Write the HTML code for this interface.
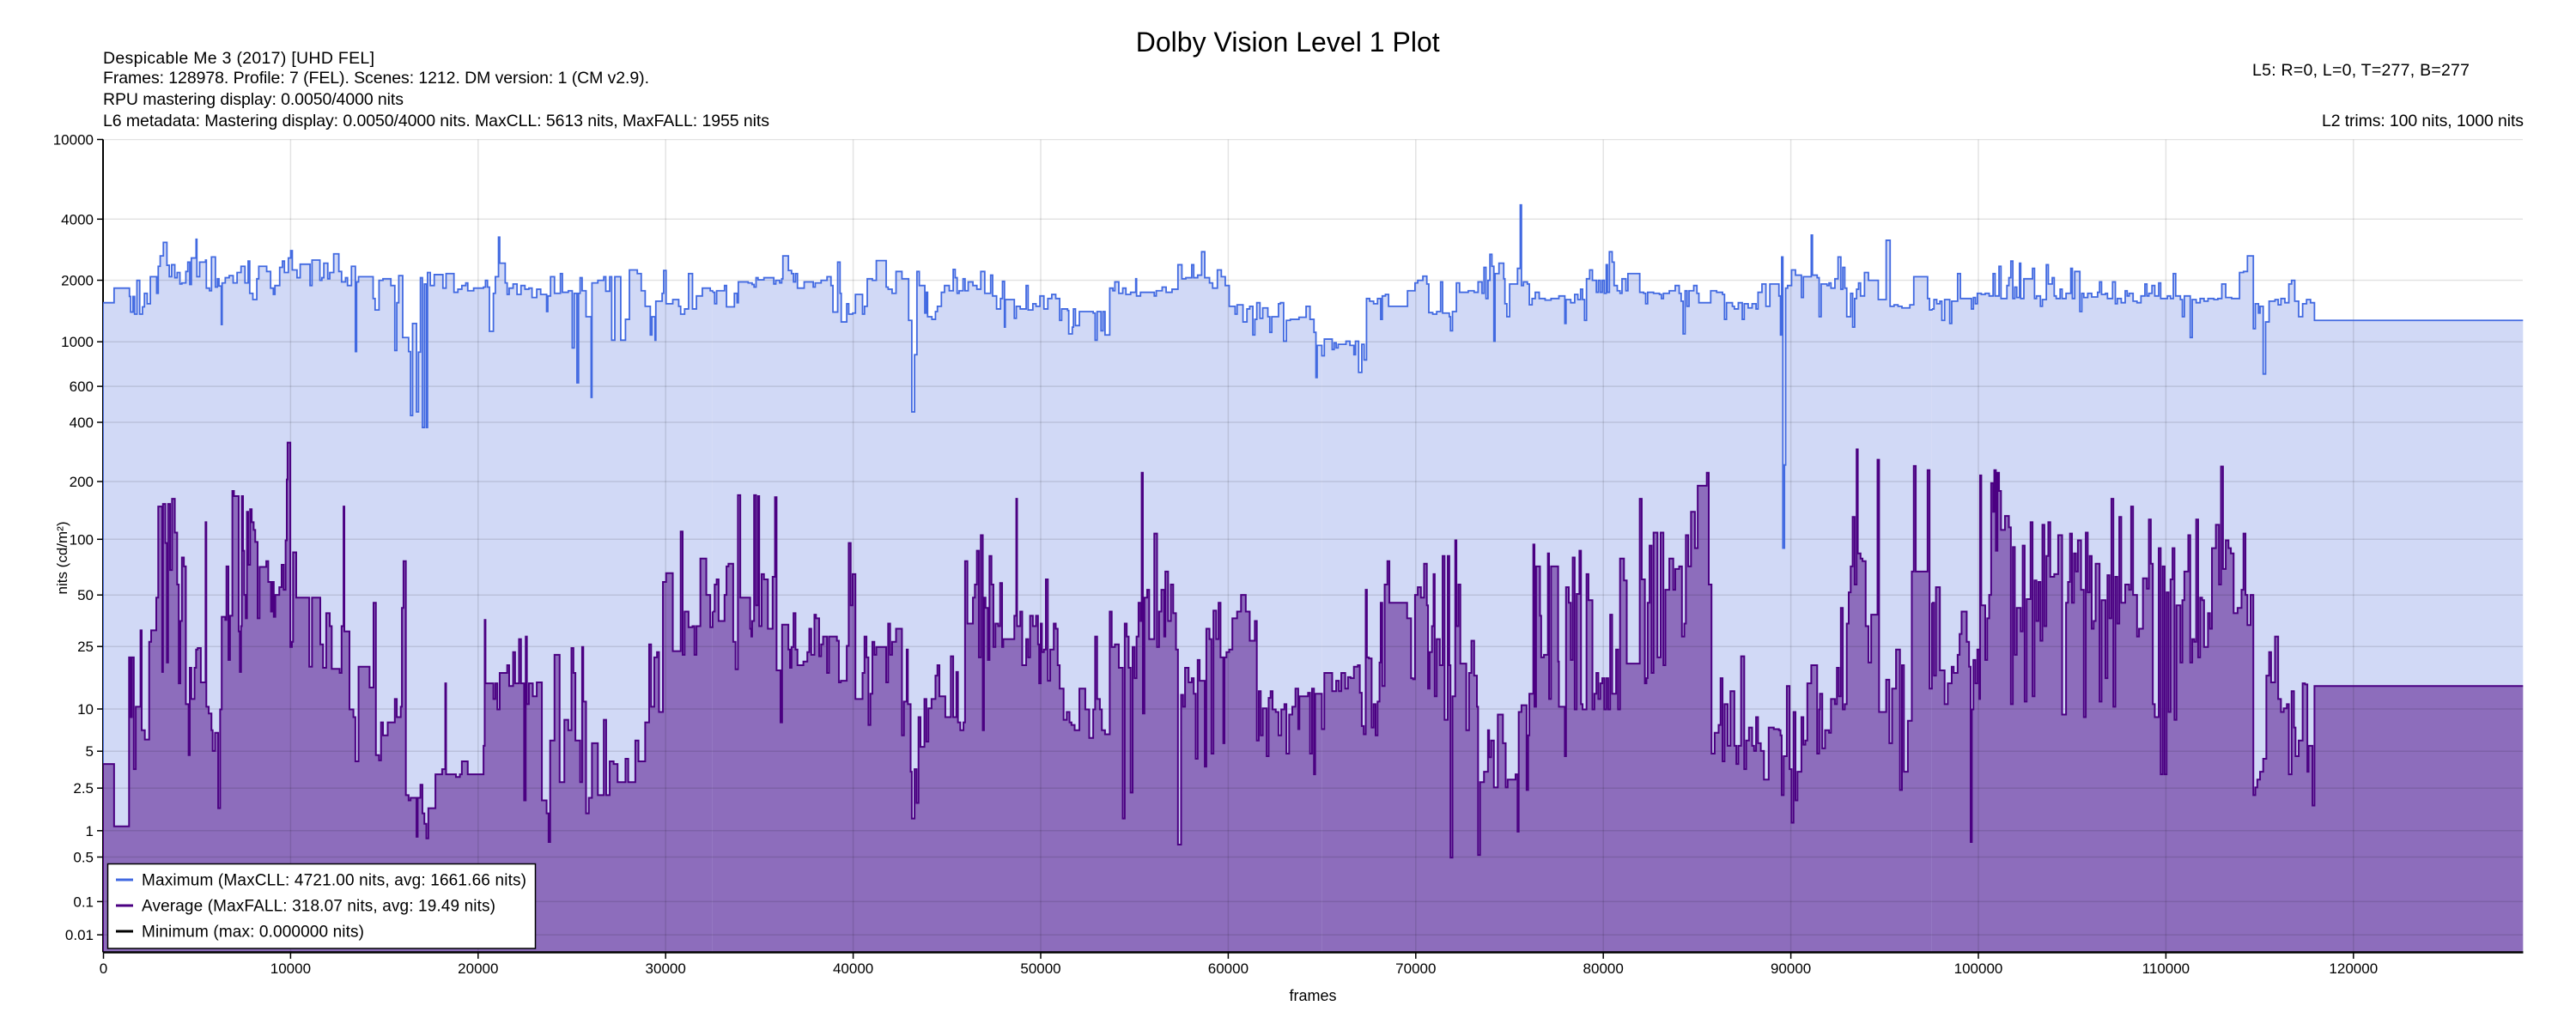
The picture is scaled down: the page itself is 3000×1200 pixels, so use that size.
<!DOCTYPE html>
<html><head><meta charset="utf-8"><style>
html,body{margin:0;padding:0;background:#fff;}
svg{display:block;font-family:"Liberation Sans",Arial,sans-serif;}
</style></head><body>
<svg width="3000" height="1200" viewBox="0 0 3000 1200" xmlns="http://www.w3.org/2000/svg">
<rect width="3000" height="1200" fill="#fff"/>
<text x="1322.7" y="60" font-size="32" textLength="354" fill="#000">Dolby Vision Level 1 Plot</text>
<text x="120" y="74" font-size="19.5" textLength="316" fill="#000">Despicable Me 3 (2017) [UHD FEL]</text>
<text x="120" y="97" font-size="19.5" textLength="636" fill="#000">Frames: 128978. Profile: 7 (FEL). Scenes: 1212. DM version: 1 (CM v2.9).</text>
<text x="120" y="122" font-size="19.5" textLength="350" fill="#000">RPU mastering display: 0.0050/4000 nits</text>
<text x="120" y="147" font-size="19.5" textLength="776" fill="#000">L6 metadata: Mastering display: 0.0050/4000 nits. MaxCLL: 5613 nits, MaxFALL: 1955 nits</text>
<text x="2623" y="88" font-size="19.5" textLength="253" fill="#000">L5: R=0, L=0, T=277, B=277</text>
<text x="2704" y="147" font-size="19.5" textLength="235" fill="#000">L2 trims: 100 nits, 1000 nits</text>

<defs><clipPath id="pc"><rect x="120" y="162" width="2818.5" height="948"/></clipPath></defs>

<line x1="120" y1="162.5" x2="120" y2="1109.5" stroke="#000" stroke-width="2"/>

<g clip-path="url(#pc)">
<g fill="#d1d9f6" stroke="none">
<g transform="translate(120,160) scale(0.459184,0.605867)"><path d="M0,1568 V318 H28 V290 H67 V306 H70 V336 H76 V306 H80 V340 H86 V275 H93 V340 H100 V326 H105 V300 H112 V320 H120 V268 H136 V300 H140 V248 H145 V228 H153 V202 H162 V246 H168 V268 H174 V245 H182 V270 H188 V260 H195 V282 H200 V280 H210 V258 H215 V240 H220 V283 H224 V232 H236 V196 H238 V268 H245 V240 H260 V236 H262 V290 H270 V295 H275 V230 H285 V288 H290 V272 H294 V286 H300 V360 H302 V280 H310 V270 H320 V266 H330 V280 H340 V260 H350 V248 H360 V280 H368 V238 H372 V300 H380 V312 H390 V272 H395 V248 H415 V258 H425 V290 H432 V302 H436 V285 H448 V250 H455 V238 H460 V260 H470 V232 H476 V218 H480 V255 H492 V270 H500 V244 H525 V285 H530 V236 H550 V275 H555 V270 H560 V242 H570 V272 H575 V260 H585 V224 H598 V258 H605 V278 H615 V270 H620 V285 H630 V248 H640 V412 H643 V278 H648 V268 H685 V310 H690 V332 H700 V275 H710 V272 H730 V285 H740 V410 H745 V318 H750 V266 H760 V385 H775 V412 H780 V535 H785 V358 H795 V528 H800 V413 H805 V270 H810 V558 H815 V282 H820 V558 H823 V260 H830 V285 H840 V264 H862 V290 H870 V262 H890 V298 H900 V292 H910 V285 H920 V280 H925 V295 H940 V290 H965 V288 H970 V275 H975 V288 H980 V373 H990 V300 H995 V268 H1003 V192 H1006 V242 H1020 V280 H1025 V302 H1030 V290 H1040 V282 H1050 V302 H1060 V285 H1070 V292 H1080 V290 H1088 V308 H1100 V292 H1110 V302 H1125 V335 H1128 V305 H1135 V268 H1145 V300 H1160 V262 H1165 V298 H1180 V295 H1190 V405 H1195 V300 H1202 V472 H1206 V300 H1210 V270 H1215 V295 H1225 V345 H1238 V500 H1240 V280 H1255 V275 H1270 V268 H1275 V296 H1285 V268 H1290 V390 H1298 V268 H1310 V268 H1313 V390 H1325 V350 H1335 V255 H1355 V262 H1365 V295 H1375 V325 H1388 V380 H1392 V345 H1400 V390 H1402 V315 H1418 V300 H1422 V256 H1428 V320 H1445 V312 H1460 V325 H1465 V340 H1475 V330 H1485 V262 H1495 V330 H1505 V305 H1520 V290 H1540 V295 H1546 V1568 Z"/></g>
<g transform="translate(830,160) scale(0.459184,0.605867)"><path d="M0,1568 V298 H5 V320 H10 V295 H30 V285 H35 V326 H55 V300 H62 V318 H65 V278 H90 V280 H100 V283 H105 V288 H110 V270 H115 V274 H130 V270 H150 V270 H155 V282 H160 V275 H170 V280 H175 V272 H178 V228 H192 V256 H200 V262 H205 V278 H210 V262 H215 V290 H232 V278 H255 V288 H260 V280 H275 V275 H290 V268 H300 V285 H305 V336 H317 V240 H323 V300 H326 V355 H340 V320 H345 V340 H355 V338 H362 V302 H380 V340 H385 V325 H392 V272 H405 V275 H415 V237 H440 V288 H445 V292 H455 V300 H465 V258 H480 V272 H497 V352 H505 V528 H512 V418 H518 V258 H524 V285 H538 V338 H542 V298 H545 V345 H556 V350 H565 V335 H570 V325 H580 V298 H588 V285 H600 V295 H610 V254 H615 V270 H620 V300 H625 V295 H635 V272 H640 V295 H648 V278 H660 V285 H670 V292 H680 V258 H690 V300 H705 V265 H710 V305 H720 V330 H730 V310 H735 V277 H740 V365 H742 V312 H765 V348 H770 V325 H780 V330 H795 V285 H800 V332 H812 V320 H820 V325 H830 V305 H840 V330 H850 V310 H860 V302 H870 V310 H880 V352 H885 V330 H900 V333 H903 V378 H912 V365 H915 V330 H920 V362 H930 V335 H965 V338 H970 V390 H975 V335 H985 V372 H990 V335 H995 V380 H1007 V290 H1015 V295 H1020 V278 H1030 V300 H1040 V290 H1048 V302 H1060 V298 H1073 V272 H1075 V305 H1085 V298 H1100 V298 H1120 V305 H1125 V295 H1140 V288 H1150 V298 H1165 V292 H1180 V245 H1190 V272 H1200 V270 H1215 V245 H1220 V270 H1230 V265 H1240 V220 H1248 V270 H1260 V280 H1268 V290 H1280 V255 H1290 V268 H1300 V285 H1310 V325 H1325 V340 H1330 V322 H1345 V355 H1355 V330 H1362 V325 H1370 V380 H1375 V350 H1380 V318 H1388 V348 H1395 V328 H1408 V345 H1413 V375 H1418 V345 H1435 V320 H1440 V318 H1448 V392 H1455 V352 H1465 V350 H1487 V346 H1505 V325 H1515 V350 H1525 V375 H1530 V462 H1533 V400 H1545 V420 H1546 V1568 Z"/></g>
<g transform="translate(1540,160) scale(0.459184,0.605867)"><path d="M0,1568 V420 H5 V388 H25 V408 H30 V395 H35 V405 H40 V398 H60 V392 H70 V400 H80 V418 H84 V392 H92 V452 H100 V398 H106 V428 H112 V310 H120 V315 H130 V320 H140 V310 H148 V350 H152 V305 H160 V302 H168 V325 H216 V295 H235 V280 H242 V275 H255 V267 H265 V282 H270 V337 H280 V340 H290 V335 H300 V278 H305 V338 H322 V345 H325 V372 H330 V335 H340 V280 H348 V298 H370 V295 H385 V298 H395 V278 H405 V300 H410 V250 H415 V310 H420 V275 H425 V225 H430 V248 H435 V392 H438 V262 H448 V242 H460 V272 H463 V320 H468 V345 H475 V282 H495 V252 H502 V130 H505 V285 H510 V278 H520 V282 H525 V322 H532 V310 H540 V298 H550 V310 H565 V313 H580 V310 H600 V305 H615 V358 H618 V312 H630 V318 H640 V302 H648 V312 H655 V292 H660 V312 H665 V352 H670 V272 H678 V255 H685 V275 H695 V298 H700 V275 H705 V298 H710 V275 H715 V300 H720 V245 H723 V298 H728 V220 H735 V240 H740 V285 H748 V295 H755 V300 H760 V272 H770 V295 H775 V262 H805 V298 H815 V300 H820 V320 H825 V298 H840 V300 H855 V302 H860 V310 H865 V300 H880 V295 H895 V285 H905 V300 H910 V315 H915 V378 H920 V295 H925 V325 H930 V295 H942 V285 H950 V300 H955 V318 H985 V295 H1000 V298 H1015 V302 H1020 V350 H1025 V318 H1040 V325 H1045 V330 H1055 V318 H1065 V350 H1070 V320 H1080 V328 H1090 V320 H1100 V330 H1105 V298 H1115 V282 H1125 V325 H1135 V282 H1150 V282 H1158 V305 H1162 V380 H1165 V230 H1168 V790 H1172 V630 H1175 V290 H1180 V285 H1190 V255 H1200 V265 H1215 V308 H1220 V268 H1240 V188 H1243 V265 H1255 V270 H1260 V345 H1265 V282 H1280 V285 H1285 V280 H1290 V290 H1300 V272 H1308 V230 H1315 V292 H1320 V250 H1325 V290 H1330 V345 H1340 V300 H1345 V365 H1350 V310 H1355 V292 H1360 V280 H1365 V305 H1375 V260 H1385 V275 H1410 V312 H1430 V198 H1440 V325 H1450 V322 H1460 V325 H1470 V328 H1490 V322 H1500 V268 H1535 V310 H1540 V332 H1546 V1568 Z"/></g>
<g transform="translate(2250,160) scale(0.459184,0.605867)"><path d="M0,1568 V330 H5 V312 H12 V320 H20 V315 H25 V352 H32 V312 H45 V358 H50 V315 H65 V262 H72 V310 H85 V310 H100 V330 H105 V308 H110 V320 H115 V300 H125 V302 H135 V300 H145 V305 H155 V262 H160 V305 H170 V248 H175 V310 H190 V285 H195 V270 H200 V238 H205 V310 H210 V288 H215 V308 H222 V242 H225 V310 H233 V272 H240 V272 H255 V252 H260 V310 H265 V305 H275 V325 H280 V312 H290 V245 H295 V282 H305 V270 H310 V305 H315 V310 H325 V292 H330 V310 H340 V300 H352 V252 H356 V310 H362 V258 H370 V258 H375 V335 H380 V300 H385 V308 H395 V300 H405 V307 H420 V298 H425 V278 H430 V302 H440 V300 H445 V310 H458 V278 H465 V320 H470 V310 H480 V318 H490 V295 H495 V305 H500 V300 H510 V315 H520 V318 H530 V305 H540 V282 H545 V305 H550 V300 H558 V285 H565 V305 H575 V280 H580 V310 H590 V310 H597 V305 H605 V310 H612 V262 H618 V305 H630 V312 H635 V345 H640 V305 H650 V305 H655 V385 H660 V312 H670 V318 H680 V310 H690 V315 H700 V310 H715 V312 H725 V310 H735 V282 H745 V308 H760 V310 H780 V260 H790 V258 H800 V228 H815 V368 H820 V320 H828 V338 H832 V325 H840 V455 H846 V355 H855 V315 H870 V312 H878 V322 H885 V310 H895 V318 H905 V282 H912 V275 H920 V315 H930 V345 H940 V320 H950 V312 H960 V318 H970 V352 H1499 V1568 Z"/></g>
</g>

<g fill="#8d6dbc" stroke="none">
<g transform="translate(120,160) scale(0.459184,0.605867)"><path d="M0,1568 V1205 H28 V1325 H66 V1000 H70 V1115 H73 V1000 H78 V1215 H83 V1095 H88 V1095 H95 V948 H98 V1140 H106 V1158 H117 V970 H122 V948 H135 V885 H140 V710 H150 V1028 H152 V705 H158 V780 H162 V1010 H165 V705 H170 V832 H175 V695 H182 V760 H188 V860 H192 V1050 H196 V930 H200 V808 H205 V825 H210 V1090 H217 V1188 H220 V1020 H224 V1080 H232 V1020 H236 V985 H240 V982 H248 V1048 H260 V740 H262 V1095 H268 V1108 H275 V1140 H278 V1180 H284 V1145 H292 V1290 H297 V1100 H301 V922 H310 V928 H313 V825 H318 V1005 H322 V920 H328 V680 H332 V690 H340 V690 H344 V950 H347 V1028 H350 V940 H352 V690 H355 V795 H358 V880 H362 V925 H365 V720 H368 V822 H373 V715 H377 V740 H382 V755 H386 V778 H392 V925 H397 V826 H414 V815 H419 V855 H426 V912 H430 V855 H433 V922 H437 V880 H447 V865 H453 V822 H458 V870 H463 V775 H466 V658 H468 V587 H475 V980 H479 V970 H482 V798 H490 V885 H523 V1018 H530 V885 H551 V975 H558 V1020 H566 V915 H575 V940 H580 V1022 H600 V1030 H605 V940 H610 V710 H612 V950 H625 V1100 H635 V1115 H640 V1200 H648 V1018 H676 V1058 H686 V895 H692 V1188 H700 V1198 H705 V1125 H710 V1150 H722 V1125 H740 V1080 H745 V1115 H755 V1095 H758 V905 H762 V815 H768 V1265 H775 V1275 H780 V1270 H795 V1345 H798 V1270 H805 V1245 H810 V1300 H815 V1320 H820 V1348 H825 V1290 H843 V1225 H860 V1215 H868 V1050 H870 V1225 H895 V1230 H905 V1225 H910 V1200 H925 V1225 H965 V1170 H968 V928 H970 V1050 H990 V1080 H995 V1050 H1000 V1100 H1006 V1030 H1025 V1015 H1030 V1055 H1040 V990 H1045 V1050 H1055 V965 H1060 V1050 H1068 V1275 H1072 V960 H1075 V1090 H1080 V1050 H1090 V1075 H1100 V1048 H1113 V1275 H1125 V1300 H1130 V1355 H1134 V1160 H1145 V995 H1158 V1240 H1170 V1120 H1180 V1140 H1188 V982 H1193 V1030 H1198 V1160 H1210 V1240 H1215 V980 H1218 V1085 H1225 V1300 H1232 V1270 H1240 V1165 H1255 V1265 H1270 V1120 H1276 V1265 H1285 V1200 H1295 V1205 H1305 V1240 H1325 V1195 H1332 V1240 H1350 V1160 H1358 V1200 H1375 V1125 H1385 V975 H1390 V1095 H1398 V1000 H1405 V990 H1410 V1105 H1420 V855 H1428 V838 H1445 V988 H1465 V758 H1470 V995 H1475 V912 H1485 V942 H1495 V940 H1500 V995 H1505 V940 H1515 V810 H1530 V880 H1540 V942 H1546 V1568 Z"/></g>
<g transform="translate(830,160) scale(0.459184,0.605867)"><path d="M0,1568 V912 H5 V860 H10 V850 H15 V930 H30 V880 H35 V825 H40 V820 H52 V970 H58 V1023 H64 V688 H70 V885 H90 V885 H95 V945 H98 V960 H100 V930 H105 V688 H110 V900 H115 V690 H118 V940 H124 V840 H130 V850 H140 V945 H152 V845 H158 V692 H162 V1025 H172 V1125 H176 V937 H192 V985 H196 V1020 H200 V980 H205 V915 H210 V985 H215 V1015 H230 V1008 H240 V990 H245 V945 H250 V995 H258 V918 H262 V925 H270 V998 H275 V975 H280 V960 H290 V1030 H295 V960 H315 V968 H320 V1048 H325 V1045 H340 V978 H345 V780 H350 V900 H355 V840 H362 V1080 H380 V1030 H385 V960 H390 V1000 H395 V1130 H400 V1070 H405 V970 H410 V995 H415 V980 H440 V1048 H445 V935 H450 V995 H455 V970 H465 V945 H480 V1150 H485 V1085 H492 V985 H495 V1090 H502 V1220 H505 V1310 H512 V1215 H517 V1280 H522 V1115 H527 V1172 H537 V1080 H542 V1162 H547 V1098 H555 V1080 H565 V1035 H570 V1015 H575 V1075 H583 V1075 H590 V1115 H604 V998 H610 V1115 H618 V1028 H622 V1125 H628 V1140 H636 V1125 H640 V815 H646 V935 H655 V935 H660 V885 H665 V860 H670 V795 H675 V1000 H680 V765 H685 V1140 H688 V885 H692 V905 H698 V1005 H702 V805 H707 V860 H712 V980 H717 V935 H724 V940 H729 V857 H734 V980 H737 V965 H742 V965 H765 V920 H770 V695 H772 V940 H780 V912 H785 V1015 H795 V965 H800 V1000 H805 V920 H812 V940 H820 V920 H825 V975 H828 V1050 H832 V935 H835 V990 H840 V985 H845 V850 H850 V1045 H856 V985 H865 V935 H870 V945 H875 V1015 H880 V1060 H890 V1120 H898 V1105 H905 V1125 H910 V1130 H918 V1140 H930 V1060 H945 V1100 H955 V1155 H965 V1100 H970 V960 H975 V1080 H982 V1100 H987 V1140 H995 V1148 H1007 V912 H1012 V980 H1020 V975 H1030 V1020 H1040 V1310 H1045 V935 H1050 V960 H1055 V1020 H1060 V1260 H1065 V980 H1070 V1040 H1075 V960 H1080 V895 H1085 V930 H1088 V645 H1091 V1108 H1095 V885 H1102 V870 H1107 V965 H1120 V762 H1127 V980 H1132 V912 H1138 V870 H1145 V960 H1148 V835 H1155 V930 H1162 V860 H1168 V915 H1175 V985 H1180 V1360 H1188 V1072 H1193 V1095 H1198 V1020 H1207 V1048 H1215 V1040 H1220 V1070 H1225 V1195 H1230 V1005 H1235 V1045 H1248 V1210 H1252 V945 H1260 V965 H1265 V1185 H1270 V910 H1277 V965 H1283 V895 H1288 V1000 H1295 V1165 H1298 V1000 H1303 V990 H1310 V985 H1318 V925 H1330 V912 H1340 V880 H1352 V912 H1362 V968 H1375 V930 H1380 V1160 H1385 V1065 H1390 V1150 H1395 V1098 H1400 V1098 H1405 V1190 H1410 V1078 H1415 V1065 H1420 V1100 H1428 V1105 H1435 V1150 H1442 V1100 H1450 V1090 H1455 V1185 H1462 V1110 H1470 V1095 H1478 V1060 H1485 V1138 H1488 V1075 H1500 V1075 H1510 V1068 H1515 V1185 H1520 V1060 H1525 V1225 H1528 V1070 H1545 V1138 H1546 V1568 Z"/></g>
<g transform="translate(1540,160) scale(0.459184,0.605867)"><path d="M0,1568 V1138 H5 V1030 H25 V1065 H35 V1045 H42 V1065 H48 V1030 H58 V1060 H65 V1038 H72 V1040 H80 V1018 H90 V1015 H95 V1068 H100 V1132 H105 V1148 H110 V870 H113 V1000 H118 V1002 H125 V1135 H130 V1090 H135 V1150 H140 V1085 H145 V1010 H148 V895 H152 V1055 H158 V860 H165 V815 H170 V895 H215 V925 H225 V1040 H230 V1042 H235 V880 H242 V865 H250 V885 H258 V820 H265 V900 H268 V1060 H272 V990 H278 V940 H282 V840 H285 V1075 H290 V965 H298 V1015 H305 V805 H310 V1120 H318 V805 H322 V1015 H325 V1385 H330 V1075 H337 V775 H340 V940 H345 V860 H350 V1012 H365 V1140 H372 V1030 H378 V968 H385 V1035 H392 V1095 H395 V1380 H400 V1240 H410 V1220 H420 V1140 H423 V1192 H428 V1160 H435 V1250 H445 V1110 H458 V1165 H465 V1250 H470 V1235 H475 V1235 H490 V1225 H495 V1335 H498 V1105 H505 V1092 H510 V1092 H518 V1255 H522 V1150 H525 V1070 H535 V783 H538 V1095 H542 V825 H552 V920 H555 V1000 H562 V995 H572 V800 H575 V1080 H580 V825 H598 V1008 H600 V1095 H615 V1190 H618 V865 H625 V895 H630 V1005 H635 V808 H640 V1100 H645 V878 H652 V795 H656 V1090 H660 V1100 H670 V840 H675 V890 H685 V1100 H690 V1070 H695 V1030 H700 V1080 H705 V1050 H710 V1040 H715 V1100 H720 V1040 H725 V1100 H730 V918 H735 V1070 H745 V985 H750 V1100 H755 V810 H765 V852 H772 V1012 H805 V695 H810 V850 H818 V1050 H822 V1040 H825 V895 H830 V785 H835 V1030 H840 V760 H850 V1000 H855 V1000 H858 V760 H865 V1015 H870 V870 H880 V810 H890 V870 H895 V830 H905 V825 H912 V960 H918 V935 H922 V765 H928 V825 H935 V720 H945 V790 H952 V670 H975 V645 H980 V860 H987 V1185 H995 V1145 H1005 V1130 H1010 V1040 H1015 V1200 H1020 V1090 H1028 V1170 H1035 V1065 H1045 V1170 H1050 V1205 H1055 V1170 H1062 V998 H1070 V1215 H1075 V1160 H1082 V1135 H1090 V1170 H1095 V1180 H1100 V1115 H1105 V1165 H1112 V1180 H1120 V1235 H1132 V1135 H1145 V1138 H1158 V1140 H1162 V1150 H1165 V1265 H1170 V1190 H1178 V1055 H1185 V1215 H1190 V1318 H1195 V1105 H1200 V1275 H1205 V1220 H1215 V1115 H1220 V1168 H1225 V1160 H1230 V1050 H1240 V1015 H1255 V1185 H1260 V1100 H1262 V1070 H1268 V1175 H1275 V1140 H1285 V1145 H1290 V1080 H1300 V1090 H1305 V1020 H1310 V1075 H1315 V905 H1320 V1100 H1325 V1090 H1330 V935 H1335 V875 H1340 V825 H1345 V730 H1350 V860 H1355 V600 H1358 V800 H1365 V810 H1370 V815 H1378 V940 H1385 V1010 H1392 V918 H1408 V620 H1412 V1105 H1430 V1043 H1438 V1165 H1445 V1060 H1455 V985 H1465 V1255 H1470 V1015 H1475 V1220 H1485 V1122 H1495 V835 H1500 V632 H1505 V835 H1535 V640 H1540 V1060 H1546 V1568 Z"/></g>
<g transform="translate(2250,160) scale(0.459184,0.605867)"><path d="M0,1568 V895 H5 V1035 H10 V865 H20 V1025 H32 V1090 H40 V1050 H50 V1018 H55 V1030 H65 V995 H70 V955 H75 V912 H88 V970 H94 V1018 H98 V1355 H101 V1100 H105 V1005 H110 V1050 H115 V985 H120 V1080 H122 V650 H125 V900 H135 V1005 H140 V925 H145 V880 H150 V665 H155 V720 H158 V640 H162 V795 H166 V645 H170 V680 H175 V755 H185 V728 H195 V750 H200 V1090 H205 V788 H210 V995 H215 V905 H225 V950 H230 V785 H235 V1085 H240 V888 H250 V740 H255 V1075 H260 V852 H265 V930 H270 V855 H275 V968 H280 V745 H285 V940 H290 V805 H295 V740 H300 V845 H310 V840 H320 V765 H330 V1110 H340 V895 H345 V855 H350 V762 H355 V895 H360 V800 H365 V835 H370 V775 H378 V870 H385 V1115 H390 V760 H395 V875 H400 V805 H405 V945 H410 V930 H415 V820 H425 V1085 H430 V890 H440 V1040 H445 V842 H450 V925 H455 V695 H460 V1095 H465 V845 H470 V935 H475 V730 H480 V895 H490 V860 H500 V870 H505 V710 H510 V880 H520 V960 H525 V945 H535 V848 H545 V868 H550 V735 H555 V820 H560 V1090 H565 V1115 H575 V790 H580 V1225 H585 V825 H590 V1225 H595 V875 H600 V1105 H605 V850 H610 V790 H615 V1120 H620 V900 H630 V1010 H635 V890 H640 V835 H650 V765 H655 V1010 H660 V965 H665 V970 H670 V735 H675 V1000 H680 V885 H685 V890 H690 V980 H700 V915 H705 V945 H710 V790 H720 V745 H728 V860 H733 V633 H738 V830 H745 V775 H752 V790 H758 V800 H765 V915 H775 V905 H785 V870 H790 V762 H795 V880 H800 V938 H808 V880 H815 V1265 H820 V1250 H825 V1235 H832 V1220 H840 V1195 H848 V1035 H855 V990 H860 V1048 H870 V960 H878 V1080 H885 V1105 H892 V1098 H900 V1090 H905 V1225 H912 V1065 H918 V1135 H922 V1190 H930 V1160 H940 V1050 H946 V1052 H952 V1220 H955 V1170 H965 V1285 H970 V1055 H1499 V1568 Z"/></g>
</g>

<g stroke="#000" stroke-opacity="0.11" stroke-width="1.5">
<line x1="120" x2="2938" y1="162.5" y2="162.5"/>
<line x1="120" x2="2938" y1="255.3" y2="255.3"/>
<line x1="120" x2="2938" y1="326.5" y2="326.5"/>
<line x1="120" x2="2938" y1="398.2" y2="398.2"/>
<line x1="120" x2="2938" y1="450.1" y2="450.1"/>
<line x1="120" x2="2938" y1="492" y2="492"/>
<line x1="120" x2="2938" y1="561" y2="561"/>
<line x1="120" x2="2938" y1="628.3" y2="628.3"/>
<line x1="120" x2="2938" y1="693.2" y2="693.2"/>
<line x1="120" x2="2938" y1="753.2" y2="753.2"/>
<line x1="120" x2="2938" y1="826" y2="826"/>
<line x1="120" x2="2938" y1="875.2" y2="875.2"/>
<line x1="120" x2="2938" y1="918.2" y2="918.2"/>
<line x1="120" x2="2938" y1="967.8" y2="967.8"/>
<line x1="120" x2="2938" y1="998.5" y2="998.5"/>
<line x1="120" x2="2938" y1="1050.4" y2="1050.4"/>
<line x1="120" x2="2938" y1="1089.1" y2="1089.1"/>
<line y1="162.5" y2="1109.5" x1="338.4" x2="338.4"/>
<line y1="162.5" y2="1109.5" x1="556.8" x2="556.8"/>
<line y1="162.5" y2="1109.5" x1="775.2" x2="775.2"/>
<line y1="162.5" y2="1109.5" x1="993.6" x2="993.6"/>
<line y1="162.5" y2="1109.5" x1="1212" x2="1212"/>
<line y1="162.5" y2="1109.5" x1="1430.4" x2="1430.4"/>
<line y1="162.5" y2="1109.5" x1="1648.8" x2="1648.8"/>
<line y1="162.5" y2="1109.5" x1="1867.2" x2="1867.2"/>
<line y1="162.5" y2="1109.5" x1="2085.6" x2="2085.6"/>
<line y1="162.5" y2="1109.5" x1="2304" x2="2304"/>
<line y1="162.5" y2="1109.5" x1="2522.4" x2="2522.4"/>
<line y1="162.5" y2="1109.5" x1="2740.8" x2="2740.8"/>
</g>

<g fill="none" stroke="#4169e1" stroke-width="1.8">
<g transform="translate(120,160) scale(0.459184,0.605867)"><path vector-effect="non-scaling-stroke" d="M0,1568 V318 H28 V290 H67 V306 H70 V336 H76 V306 H80 V340 H86 V275 H93 V340 H100 V326 H105 V300 H112 V320 H120 V268 H136 V300 H140 V248 H145 V228 H153 V202 H162 V246 H168 V268 H174 V245 H182 V270 H188 V260 H195 V282 H200 V280 H210 V258 H215 V240 H220 V283 H224 V232 H236 V196 H238 V268 H245 V240 H260 V236 H262 V290 H270 V295 H275 V230 H285 V288 H290 V272 H294 V286 H300 V360 H302 V280 H310 V270 H320 V266 H330 V280 H340 V260 H350 V248 H360 V280 H368 V238 H372 V300 H380 V312 H390 V272 H395 V248 H415 V258 H425 V290 H432 V302 H436 V285 H448 V250 H455 V238 H460 V260 H470 V232 H476 V218 H480 V255 H492 V270 H500 V244 H525 V285 H530 V236 H550 V275 H555 V270 H560 V242 H570 V272 H575 V260 H585 V224 H598 V258 H605 V278 H615 V270 H620 V285 H630 V248 H640 V412 H643 V278 H648 V268 H685 V310 H690 V332 H700 V275 H710 V272 H730 V285 H740 V410 H745 V318 H750 V266 H760 V385 H775 V412 H780 V535 H785 V358 H795 V528 H800 V413 H805 V270 H810 V558 H815 V282 H820 V558 H823 V260 H830 V285 H840 V264 H862 V290 H870 V262 H890 V298 H900 V292 H910 V285 H920 V280 H925 V295 H940 V290 H965 V288 H970 V275 H975 V288 H980 V373 H990 V300 H995 V268 H1003 V192 H1006 V242 H1020 V280 H1025 V302 H1030 V290 H1040 V282 H1050 V302 H1060 V285 H1070 V292 H1080 V290 H1088 V308 H1100 V292 H1110 V302 H1125 V335 H1128 V305 H1135 V268 H1145 V300 H1160 V262 H1165 V298 H1180 V295 H1190 V405 H1195 V300 H1202 V472 H1206 V300 H1210 V270 H1215 V295 H1225 V345 H1238 V500 H1240 V280 H1255 V275 H1270 V268 H1275 V296 H1285 V268 H1290 V390 H1298 V268 H1310 V268 H1313 V390 H1325 V350 H1335 V255 H1355 V262 H1365 V295 H1375 V325 H1388 V380 H1392 V345 H1400 V390 H1402 V315 H1418 V300 H1422 V256 H1428 V320 H1445 V312 H1460 V325 H1465 V340 H1475 V330 H1485 V262 H1495 V330 H1505 V305 H1520 V290 H1540 V295 H1546 V298"/></g>
<g transform="translate(830,160) scale(0.459184,0.605867)"><path vector-effect="non-scaling-stroke" d="M0,298 H5 V320 H10 V295 H30 V285 H35 V326 H55 V300 H62 V318 H65 V278 H90 V280 H100 V283 H105 V288 H110 V270 H115 V274 H130 V270 H150 V270 H155 V282 H160 V275 H170 V280 H175 V272 H178 V228 H192 V256 H200 V262 H205 V278 H210 V262 H215 V290 H232 V278 H255 V288 H260 V280 H275 V275 H290 V268 H300 V285 H305 V336 H317 V240 H323 V300 H326 V355 H340 V320 H345 V340 H355 V338 H362 V302 H380 V340 H385 V325 H392 V272 H405 V275 H415 V237 H440 V288 H445 V292 H455 V300 H465 V258 H480 V272 H497 V352 H505 V528 H512 V418 H518 V258 H524 V285 H538 V338 H542 V298 H545 V345 H556 V350 H565 V335 H570 V325 H580 V298 H588 V285 H600 V295 H610 V254 H615 V270 H620 V300 H625 V295 H635 V272 H640 V295 H648 V278 H660 V285 H670 V292 H680 V258 H690 V300 H705 V265 H710 V305 H720 V330 H730 V310 H735 V277 H740 V365 H742 V312 H765 V348 H770 V325 H780 V330 H795 V285 H800 V332 H812 V320 H820 V325 H830 V305 H840 V330 H850 V310 H860 V302 H870 V310 H880 V352 H885 V330 H900 V333 H903 V378 H912 V365 H915 V330 H920 V362 H930 V335 H965 V338 H970 V390 H975 V335 H985 V372 H990 V335 H995 V380 H1007 V290 H1015 V295 H1020 V278 H1030 V300 H1040 V290 H1048 V302 H1060 V298 H1073 V272 H1075 V305 H1085 V298 H1100 V298 H1120 V305 H1125 V295 H1140 V288 H1150 V298 H1165 V292 H1180 V245 H1190 V272 H1200 V270 H1215 V245 H1220 V270 H1230 V265 H1240 V220 H1248 V270 H1260 V280 H1268 V290 H1280 V255 H1290 V268 H1300 V285 H1310 V325 H1325 V340 H1330 V322 H1345 V355 H1355 V330 H1362 V325 H1370 V380 H1375 V350 H1380 V318 H1388 V348 H1395 V328 H1408 V345 H1413 V375 H1418 V345 H1435 V320 H1440 V318 H1448 V392 H1455 V352 H1465 V350 H1487 V346 H1505 V325 H1515 V350 H1525 V375 H1530 V462 H1533 V400 H1545 V420 H1546"/></g>
<g transform="translate(1540,160) scale(0.459184,0.605867)"><path vector-effect="non-scaling-stroke" d="M0,420 H5 V388 H25 V408 H30 V395 H35 V405 H40 V398 H60 V392 H70 V400 H80 V418 H84 V392 H92 V452 H100 V398 H106 V428 H112 V310 H120 V315 H130 V320 H140 V310 H148 V350 H152 V305 H160 V302 H168 V325 H216 V295 H235 V280 H242 V275 H255 V267 H265 V282 H270 V337 H280 V340 H290 V335 H300 V278 H305 V338 H322 V345 H325 V372 H330 V335 H340 V280 H348 V298 H370 V295 H385 V298 H395 V278 H405 V300 H410 V250 H415 V310 H420 V275 H425 V225 H430 V248 H435 V392 H438 V262 H448 V242 H460 V272 H463 V320 H468 V345 H475 V282 H495 V252 H502 V130 H505 V285 H510 V278 H520 V282 H525 V322 H532 V310 H540 V298 H550 V310 H565 V313 H580 V310 H600 V305 H615 V358 H618 V312 H630 V318 H640 V302 H648 V312 H655 V292 H660 V312 H665 V352 H670 V272 H678 V255 H685 V275 H695 V298 H700 V275 H705 V298 H710 V275 H715 V300 H720 V245 H723 V298 H728 V220 H735 V240 H740 V285 H748 V295 H755 V300 H760 V272 H770 V295 H775 V262 H805 V298 H815 V300 H820 V320 H825 V298 H840 V300 H855 V302 H860 V310 H865 V300 H880 V295 H895 V285 H905 V300 H910 V315 H915 V378 H920 V295 H925 V325 H930 V295 H942 V285 H950 V300 H955 V318 H985 V295 H1000 V298 H1015 V302 H1020 V350 H1025 V318 H1040 V325 H1045 V330 H1055 V318 H1065 V350 H1070 V320 H1080 V328 H1090 V320 H1100 V330 H1105 V298 H1115 V282 H1125 V325 H1135 V282 H1150 V282 H1158 V305 H1162 V380 H1165 V230 H1168 V790 H1172 V630 H1175 V290 H1180 V285 H1190 V255 H1200 V265 H1215 V308 H1220 V268 H1240 V188 H1243 V265 H1255 V270 H1260 V345 H1265 V282 H1280 V285 H1285 V280 H1290 V290 H1300 V272 H1308 V230 H1315 V292 H1320 V250 H1325 V290 H1330 V345 H1340 V300 H1345 V365 H1350 V310 H1355 V292 H1360 V280 H1365 V305 H1375 V260 H1385 V275 H1410 V312 H1430 V198 H1440 V325 H1450 V322 H1460 V325 H1470 V328 H1490 V322 H1500 V268 H1535 V310 H1540 V332 H1546 V330"/></g>
<g transform="translate(2250,160) scale(0.459184,0.605867)"><path vector-effect="non-scaling-stroke" d="M0,330 H5 V312 H12 V320 H20 V315 H25 V352 H32 V312 H45 V358 H50 V315 H65 V262 H72 V310 H85 V310 H100 V330 H105 V308 H110 V320 H115 V300 H125 V302 H135 V300 H145 V305 H155 V262 H160 V305 H170 V248 H175 V310 H190 V285 H195 V270 H200 V238 H205 V310 H210 V288 H215 V308 H222 V242 H225 V310 H233 V272 H240 V272 H255 V252 H260 V310 H265 V305 H275 V325 H280 V312 H290 V245 H295 V282 H305 V270 H310 V305 H315 V310 H325 V292 H330 V310 H340 V300 H352 V252 H356 V310 H362 V258 H370 V258 H375 V335 H380 V300 H385 V308 H395 V300 H405 V307 H420 V298 H425 V278 H430 V302 H440 V300 H445 V310 H458 V278 H465 V320 H470 V310 H480 V318 H490 V295 H495 V305 H500 V300 H510 V315 H520 V318 H530 V305 H540 V282 H545 V305 H550 V300 H558 V285 H565 V305 H575 V280 H580 V310 H590 V310 H597 V305 H605 V310 H612 V262 H618 V305 H630 V312 H635 V345 H640 V305 H650 V305 H655 V385 H660 V312 H670 V318 H680 V310 H690 V315 H700 V310 H715 V312 H725 V310 H735 V282 H745 V308 H760 V310 H780 V260 H790 V258 H800 V228 H815 V368 H820 V320 H828 V338 H832 V325 H840 V455 H846 V355 H855 V315 H870 V312 H878 V322 H885 V310 H895 V318 H905 V282 H912 V275 H920 V315 H930 V345 H940 V320 H950 V312 H960 V318 H970 V352 H1499"/></g>
</g>

<g fill="none" stroke="#4b0082" stroke-width="2">
<g transform="translate(120,160) scale(0.459184,0.605867)"><path vector-effect="non-scaling-stroke" d="M0,1568 V1205 H28 V1325 H66 V1000 H70 V1115 H73 V1000 H78 V1215 H83 V1095 H88 V1095 H95 V948 H98 V1140 H106 V1158 H117 V970 H122 V948 H135 V885 H140 V710 H150 V1028 H152 V705 H158 V780 H162 V1010 H165 V705 H170 V832 H175 V695 H182 V760 H188 V860 H192 V1050 H196 V930 H200 V808 H205 V825 H210 V1090 H217 V1188 H220 V1020 H224 V1080 H232 V1020 H236 V985 H240 V982 H248 V1048 H260 V740 H262 V1095 H268 V1108 H275 V1140 H278 V1180 H284 V1145 H292 V1290 H297 V1100 H301 V922 H310 V928 H313 V825 H318 V1005 H322 V920 H328 V680 H332 V690 H340 V690 H344 V950 H347 V1028 H350 V940 H352 V690 H355 V795 H358 V880 H362 V925 H365 V720 H368 V822 H373 V715 H377 V740 H382 V755 H386 V778 H392 V925 H397 V826 H414 V815 H419 V855 H426 V912 H430 V855 H433 V922 H437 V880 H447 V865 H453 V822 H458 V870 H463 V775 H466 V658 H468 V587 H475 V980 H479 V970 H482 V798 H490 V885 H523 V1018 H530 V885 H551 V975 H558 V1020 H566 V915 H575 V940 H580 V1022 H600 V1030 H605 V940 H610 V710 H612 V950 H625 V1100 H635 V1115 H640 V1200 H648 V1018 H676 V1058 H686 V895 H692 V1188 H700 V1198 H705 V1125 H710 V1150 H722 V1125 H740 V1080 H745 V1115 H755 V1095 H758 V905 H762 V815 H768 V1265 H775 V1275 H780 V1270 H795 V1345 H798 V1270 H805 V1245 H810 V1300 H815 V1320 H820 V1348 H825 V1290 H843 V1225 H860 V1215 H868 V1050 H870 V1225 H895 V1230 H905 V1225 H910 V1200 H925 V1225 H965 V1170 H968 V928 H970 V1050 H990 V1080 H995 V1050 H1000 V1100 H1006 V1030 H1025 V1015 H1030 V1055 H1040 V990 H1045 V1050 H1055 V965 H1060 V1050 H1068 V1275 H1072 V960 H1075 V1090 H1080 V1050 H1090 V1075 H1100 V1048 H1113 V1275 H1125 V1300 H1130 V1355 H1134 V1160 H1145 V995 H1158 V1240 H1170 V1120 H1180 V1140 H1188 V982 H1193 V1030 H1198 V1160 H1210 V1240 H1215 V980 H1218 V1085 H1225 V1300 H1232 V1270 H1240 V1165 H1255 V1265 H1270 V1120 H1276 V1265 H1285 V1200 H1295 V1205 H1305 V1240 H1325 V1195 H1332 V1240 H1350 V1160 H1358 V1200 H1375 V1125 H1385 V975 H1390 V1095 H1398 V1000 H1405 V990 H1410 V1105 H1420 V855 H1428 V838 H1445 V988 H1465 V758 H1470 V995 H1475 V912 H1485 V942 H1495 V940 H1500 V995 H1505 V940 H1515 V810 H1530 V880 H1540 V942 H1546 V912"/></g>
<g transform="translate(830,160) scale(0.459184,0.605867)"><path vector-effect="non-scaling-stroke" d="M0,912 H5 V860 H10 V850 H15 V930 H30 V880 H35 V825 H40 V820 H52 V970 H58 V1023 H64 V688 H70 V885 H90 V885 H95 V945 H98 V960 H100 V930 H105 V688 H110 V900 H115 V690 H118 V940 H124 V840 H130 V850 H140 V945 H152 V845 H158 V692 H162 V1025 H172 V1125 H176 V937 H192 V985 H196 V1020 H200 V980 H205 V915 H210 V985 H215 V1015 H230 V1008 H240 V990 H245 V945 H250 V995 H258 V918 H262 V925 H270 V998 H275 V975 H280 V960 H290 V1030 H295 V960 H315 V968 H320 V1048 H325 V1045 H340 V978 H345 V780 H350 V900 H355 V840 H362 V1080 H380 V1030 H385 V960 H390 V1000 H395 V1130 H400 V1070 H405 V970 H410 V995 H415 V980 H440 V1048 H445 V935 H450 V995 H455 V970 H465 V945 H480 V1150 H485 V1085 H492 V985 H495 V1090 H502 V1220 H505 V1310 H512 V1215 H517 V1280 H522 V1115 H527 V1172 H537 V1080 H542 V1162 H547 V1098 H555 V1080 H565 V1035 H570 V1015 H575 V1075 H583 V1075 H590 V1115 H604 V998 H610 V1115 H618 V1028 H622 V1125 H628 V1140 H636 V1125 H640 V815 H646 V935 H655 V935 H660 V885 H665 V860 H670 V795 H675 V1000 H680 V765 H685 V1140 H688 V885 H692 V905 H698 V1005 H702 V805 H707 V860 H712 V980 H717 V935 H724 V940 H729 V857 H734 V980 H737 V965 H742 V965 H765 V920 H770 V695 H772 V940 H780 V912 H785 V1015 H795 V965 H800 V1000 H805 V920 H812 V940 H820 V920 H825 V975 H828 V1050 H832 V935 H835 V990 H840 V985 H845 V850 H850 V1045 H856 V985 H865 V935 H870 V945 H875 V1015 H880 V1060 H890 V1120 H898 V1105 H905 V1125 H910 V1130 H918 V1140 H930 V1060 H945 V1100 H955 V1155 H965 V1100 H970 V960 H975 V1080 H982 V1100 H987 V1140 H995 V1148 H1007 V912 H1012 V980 H1020 V975 H1030 V1020 H1040 V1310 H1045 V935 H1050 V960 H1055 V1020 H1060 V1260 H1065 V980 H1070 V1040 H1075 V960 H1080 V895 H1085 V930 H1088 V645 H1091 V1108 H1095 V885 H1102 V870 H1107 V965 H1120 V762 H1127 V980 H1132 V912 H1138 V870 H1145 V960 H1148 V835 H1155 V930 H1162 V860 H1168 V915 H1175 V985 H1180 V1360 H1188 V1072 H1193 V1095 H1198 V1020 H1207 V1048 H1215 V1040 H1220 V1070 H1225 V1195 H1230 V1005 H1235 V1045 H1248 V1210 H1252 V945 H1260 V965 H1265 V1185 H1270 V910 H1277 V965 H1283 V895 H1288 V1000 H1295 V1165 H1298 V1000 H1303 V990 H1310 V985 H1318 V925 H1330 V912 H1340 V880 H1352 V912 H1362 V968 H1375 V930 H1380 V1160 H1385 V1065 H1390 V1150 H1395 V1098 H1400 V1098 H1405 V1190 H1410 V1078 H1415 V1065 H1420 V1100 H1428 V1105 H1435 V1150 H1442 V1100 H1450 V1090 H1455 V1185 H1462 V1110 H1470 V1095 H1478 V1060 H1485 V1138 H1488 V1075 H1500 V1075 H1510 V1068 H1515 V1185 H1520 V1060 H1525 V1225 H1528 V1070 H1545 V1138 H1546"/></g>
<g transform="translate(1540,160) scale(0.459184,0.605867)"><path vector-effect="non-scaling-stroke" d="M0,1138 H5 V1030 H25 V1065 H35 V1045 H42 V1065 H48 V1030 H58 V1060 H65 V1038 H72 V1040 H80 V1018 H90 V1015 H95 V1068 H100 V1132 H105 V1148 H110 V870 H113 V1000 H118 V1002 H125 V1135 H130 V1090 H135 V1150 H140 V1085 H145 V1010 H148 V895 H152 V1055 H158 V860 H165 V815 H170 V895 H215 V925 H225 V1040 H230 V1042 H235 V880 H242 V865 H250 V885 H258 V820 H265 V900 H268 V1060 H272 V990 H278 V940 H282 V840 H285 V1075 H290 V965 H298 V1015 H305 V805 H310 V1120 H318 V805 H322 V1015 H325 V1385 H330 V1075 H337 V775 H340 V940 H345 V860 H350 V1012 H365 V1140 H372 V1030 H378 V968 H385 V1035 H392 V1095 H395 V1380 H400 V1240 H410 V1220 H420 V1140 H423 V1192 H428 V1160 H435 V1250 H445 V1110 H458 V1165 H465 V1250 H470 V1235 H475 V1235 H490 V1225 H495 V1335 H498 V1105 H505 V1092 H510 V1092 H518 V1255 H522 V1150 H525 V1070 H535 V783 H538 V1095 H542 V825 H552 V920 H555 V1000 H562 V995 H572 V800 H575 V1080 H580 V825 H598 V1008 H600 V1095 H615 V1190 H618 V865 H625 V895 H630 V1005 H635 V808 H640 V1100 H645 V878 H652 V795 H656 V1090 H660 V1100 H670 V840 H675 V890 H685 V1100 H690 V1070 H695 V1030 H700 V1080 H705 V1050 H710 V1040 H715 V1100 H720 V1040 H725 V1100 H730 V918 H735 V1070 H745 V985 H750 V1100 H755 V810 H765 V852 H772 V1012 H805 V695 H810 V850 H818 V1050 H822 V1040 H825 V895 H830 V785 H835 V1030 H840 V760 H850 V1000 H855 V1000 H858 V760 H865 V1015 H870 V870 H880 V810 H890 V870 H895 V830 H905 V825 H912 V960 H918 V935 H922 V765 H928 V825 H935 V720 H945 V790 H952 V670 H975 V645 H980 V860 H987 V1185 H995 V1145 H1005 V1130 H1010 V1040 H1015 V1200 H1020 V1090 H1028 V1170 H1035 V1065 H1045 V1170 H1050 V1205 H1055 V1170 H1062 V998 H1070 V1215 H1075 V1160 H1082 V1135 H1090 V1170 H1095 V1180 H1100 V1115 H1105 V1165 H1112 V1180 H1120 V1235 H1132 V1135 H1145 V1138 H1158 V1140 H1162 V1150 H1165 V1265 H1170 V1190 H1178 V1055 H1185 V1215 H1190 V1318 H1195 V1105 H1200 V1275 H1205 V1220 H1215 V1115 H1220 V1168 H1225 V1160 H1230 V1050 H1240 V1015 H1255 V1185 H1260 V1100 H1262 V1070 H1268 V1175 H1275 V1140 H1285 V1145 H1290 V1080 H1300 V1090 H1305 V1020 H1310 V1075 H1315 V905 H1320 V1100 H1325 V1090 H1330 V935 H1335 V875 H1340 V825 H1345 V730 H1350 V860 H1355 V600 H1358 V800 H1365 V810 H1370 V815 H1378 V940 H1385 V1010 H1392 V918 H1408 V620 H1412 V1105 H1430 V1043 H1438 V1165 H1445 V1060 H1455 V985 H1465 V1255 H1470 V1015 H1475 V1220 H1485 V1122 H1495 V835 H1500 V632 H1505 V835 H1535 V640 H1540 V1060 H1546 V895"/></g>
<g transform="translate(2250,160) scale(0.459184,0.605867)"><path vector-effect="non-scaling-stroke" d="M0,895 H5 V1035 H10 V865 H20 V1025 H32 V1090 H40 V1050 H50 V1018 H55 V1030 H65 V995 H70 V955 H75 V912 H88 V970 H94 V1018 H98 V1355 H101 V1100 H105 V1005 H110 V1050 H115 V985 H120 V1080 H122 V650 H125 V900 H135 V1005 H140 V925 H145 V880 H150 V665 H155 V720 H158 V640 H162 V795 H166 V645 H170 V680 H175 V755 H185 V728 H195 V750 H200 V1090 H205 V788 H210 V995 H215 V905 H225 V950 H230 V785 H235 V1085 H240 V888 H250 V740 H255 V1075 H260 V852 H265 V930 H270 V855 H275 V968 H280 V745 H285 V940 H290 V805 H295 V740 H300 V845 H310 V840 H320 V765 H330 V1110 H340 V895 H345 V855 H350 V762 H355 V895 H360 V800 H365 V835 H370 V775 H378 V870 H385 V1115 H390 V760 H395 V875 H400 V805 H405 V945 H410 V930 H415 V820 H425 V1085 H430 V890 H440 V1040 H445 V842 H450 V925 H455 V695 H460 V1095 H465 V845 H470 V935 H475 V730 H480 V895 H490 V860 H500 V870 H505 V710 H510 V880 H520 V960 H525 V945 H535 V848 H545 V868 H550 V735 H555 V820 H560 V1090 H565 V1115 H575 V790 H580 V1225 H585 V825 H590 V1225 H595 V875 H600 V1105 H605 V850 H610 V790 H615 V1120 H620 V900 H630 V1010 H635 V890 H640 V835 H650 V765 H655 V1010 H660 V965 H665 V970 H670 V735 H675 V1000 H680 V885 H685 V890 H690 V980 H700 V915 H705 V945 H710 V790 H720 V745 H728 V860 H733 V633 H738 V830 H745 V775 H752 V790 H758 V800 H765 V915 H775 V905 H785 V870 H790 V762 H795 V880 H800 V938 H808 V880 H815 V1265 H820 V1250 H825 V1235 H832 V1220 H840 V1195 H848 V1035 H855 V990 H860 V1048 H870 V960 H878 V1080 H885 V1105 H892 V1098 H900 V1090 H905 V1225 H912 V1065 H918 V1135 H922 V1190 H930 V1160 H940 V1050 H946 V1052 H952 V1220 H955 V1170 H965 V1285 H970 V1055 H1499"/></g>
</g>
</g>

<line x1="120" y1="1109.5" x2="2938.5" y2="1109.5" stroke="#000" stroke-width="2.6"/>
<g stroke="#000" stroke-width="1.5">
<line x1="113" x2="120" y1="162.5" y2="162.5"/>
<line x1="113" x2="120" y1="255.3" y2="255.3"/>
<line x1="113" x2="120" y1="326.5" y2="326.5"/>
<line x1="113" x2="120" y1="398.2" y2="398.2"/>
<line x1="113" x2="120" y1="450.1" y2="450.1"/>
<line x1="113" x2="120" y1="492" y2="492"/>
<line x1="113" x2="120" y1="561" y2="561"/>
<line x1="113" x2="120" y1="628.3" y2="628.3"/>
<line x1="113" x2="120" y1="693.2" y2="693.2"/>
<line x1="113" x2="120" y1="753.2" y2="753.2"/>
<line x1="113" x2="120" y1="826" y2="826"/>
<line x1="113" x2="120" y1="875.2" y2="875.2"/>
<line x1="113" x2="120" y1="918.2" y2="918.2"/>
<line x1="113" x2="120" y1="967.8" y2="967.8"/>
<line x1="113" x2="120" y1="998.5" y2="998.5"/>
<line x1="113" x2="120" y1="1050.4" y2="1050.4"/>
<line x1="113" x2="120" y1="1089.1" y2="1089.1"/>
<line y1="1110" y2="1117" x1="120.5" x2="120.5"/>
<line y1="1110" y2="1117" x1="338.4" x2="338.4"/>
<line y1="1110" y2="1117" x1="556.8" x2="556.8"/>
<line y1="1110" y2="1117" x1="775.2" x2="775.2"/>
<line y1="1110" y2="1117" x1="993.6" x2="993.6"/>
<line y1="1110" y2="1117" x1="1212" x2="1212"/>
<line y1="1110" y2="1117" x1="1430.4" x2="1430.4"/>
<line y1="1110" y2="1117" x1="1648.8" x2="1648.8"/>
<line y1="1110" y2="1117" x1="1867.2" x2="1867.2"/>
<line y1="1110" y2="1117" x1="2085.6" x2="2085.6"/>
<line y1="1110" y2="1117" x1="2304" x2="2304"/>
<line y1="1110" y2="1117" x1="2522.4" x2="2522.4"/>
<line y1="1110" y2="1117" x1="2740.8" x2="2740.8"/>
</g>
<g font-size="17" fill="#000" text-anchor="end">
<text x="109" y="168.5">10000</text>
<text x="109" y="261.3">4000</text>
<text x="109" y="332.5">2000</text>
<text x="109" y="404.2">1000</text>
<text x="109" y="456.1">600</text>
<text x="109" y="498">400</text>
<text x="109" y="567">200</text>
<text x="109" y="634.3">100</text>
<text x="109" y="699.2">50</text>
<text x="109" y="759.2">25</text>
<text x="109" y="832">10</text>
<text x="109" y="881.2">5</text>
<text x="109" y="924.2">2.5</text>
<text x="109" y="973.8">1</text>
<text x="109" y="1004.5">0.5</text>
<text x="109" y="1056.4">0.1</text>
<text x="109" y="1095.1">0.01</text>
</g>
<g font-size="17" fill="#000" text-anchor="middle">
<text x="120.5" y="1134">0</text>
<text x="338.4" y="1134">10000</text>
<text x="556.8" y="1134">20000</text>
<text x="775.2" y="1134">30000</text>
<text x="993.6" y="1134">40000</text>
<text x="1212" y="1134">50000</text>
<text x="1430.4" y="1134">60000</text>
<text x="1648.8" y="1134">70000</text>
<text x="1867.2" y="1134">80000</text>
<text x="2085.6" y="1134">90000</text>
<text x="2304" y="1134">100000</text>
<text x="2522.4" y="1134">110000</text>
<text x="2740.8" y="1134">120000</text>
</g>
<text x="1529" y="1166" font-size="18" text-anchor="middle" fill="#000">frames</text>
<text transform="translate(78,650) rotate(-90)" font-size="17" text-anchor="middle" fill="#000">nits (cd/m²)</text>

<rect x="125.5" y="1006.5" width="498" height="98.5" fill="#fff" stroke="#000" stroke-width="1.5"/>
<line x1="135" x2="155" y1="1025" y2="1025" stroke="#4169e1" stroke-width="3"/>
<line x1="135" x2="155" y1="1055" y2="1055" stroke="#4b0082" stroke-width="3"/>
<line x1="135" x2="155" y1="1085" y2="1085" stroke="#000" stroke-width="3"/>
<g font-size="19" fill="#000">
<text x="165" y="1031.5" textLength="448">Maximum (MaxCLL: 4721.00 nits, avg: 1661.66 nits)</text>
<text x="165" y="1061.5" textLength="412">Average (MaxFALL: 318.07 nits, avg: 19.49 nits)</text>
<text x="165" y="1091.5" textLength="259">Minimum (max: 0.000000 nits)</text>
</g>
</svg>
</body></html>
